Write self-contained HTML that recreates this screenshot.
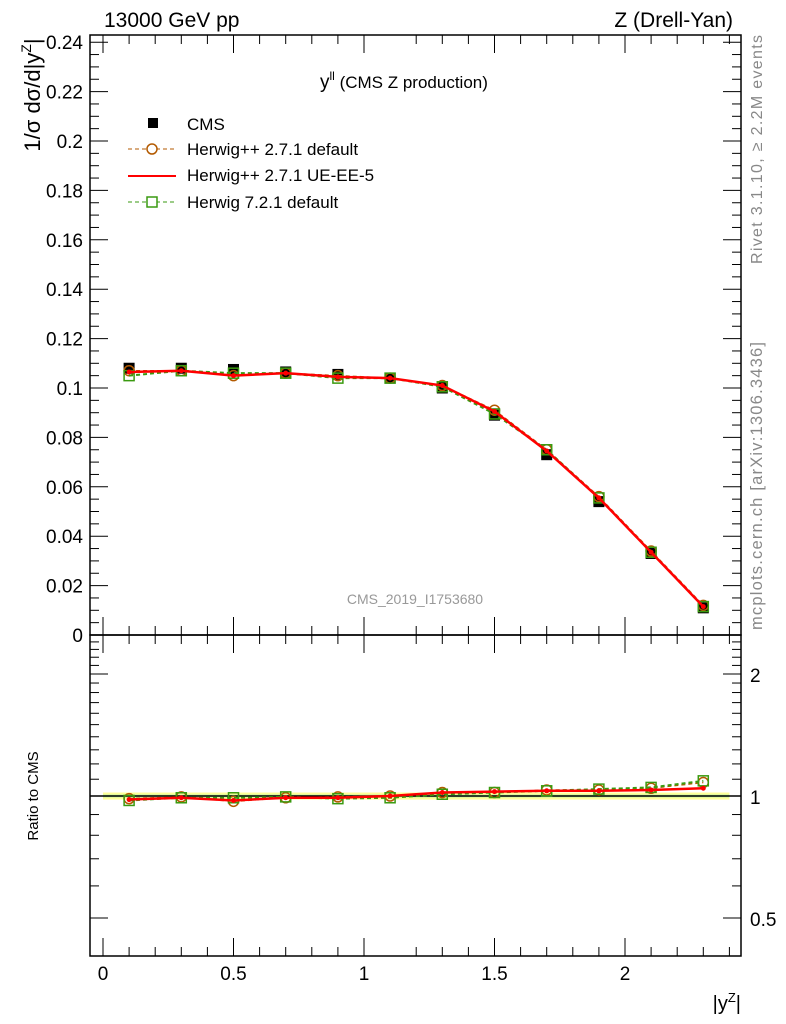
<!DOCTYPE html>
<html><head><meta charset="utf-8"><style>
body{margin:0;background:#fff;}
svg{display:block;font-family:"Liberation Sans",sans-serif;}
</style></head><body>
<svg id="c" width="786" height="1024" viewBox="0 0 786 1024">
<text x="104" y="27" font-size="21">13000 GeV pp</text>
<text x="733" y="27" font-size="21" text-anchor="end">Z (Drell-Yan)</text>
<text x="320" y="88" font-size="19">y<tspan font-size="12" dy="-8">ll</tspan><tspan dy="8" font-size="17"> (CMS Z production)</tspan></text>
<text x="415" y="604" font-size="14" fill="#999" text-anchor="middle">CMS_2019_I1753680</text>
<text transform="translate(762,264) rotate(-90)" font-size="16" fill="#888" textLength="229">Rivet 3.1.10, ≥ 2.2M events</text>
<text transform="translate(762,630) rotate(-90)" font-size="16.5" fill="#888" textLength="288">mcplots.cern.ch [arXiv:1306.3436]</text>
<text transform="translate(40,95) rotate(-90)" font-size="22" text-anchor="middle">1/σ dσ/d|y<tspan font-size="14" dy="-9">Z</tspan><tspan dy="9">|</tspan></text>
<text transform="translate(38,796) rotate(-90)" font-size="15" text-anchor="middle">Ratio to CMS</text>
<text x="741" y="1010" font-size="20" text-anchor="end">|y<tspan font-size="13" dy="-8">Z</tspan><tspan dy="8">|</tspan></text>
<g id="legend">
<g><rect x="148" y="118" width="10" height="10" fill="#000"/><text x="187" y="130" font-size="17">CMS</text></g>
<g><line x1="128" y1="149" x2="176" y2="149" stroke="#b35a00" stroke-dasharray="4,3"/><circle cx="152" cy="149" r="5" fill="#fff" stroke="#b35a00" stroke-width="1.5"/><text x="187" y="155" font-size="17">Herwig++ 2.7.1 default</text></g>
<g><line x1="128" y1="176" x2="176" y2="176" stroke="#f00" stroke-width="2"/><text x="187" y="181" font-size="17">Herwig++ 2.7.1 UE-EE-5</text></g>
<g><line x1="128" y1="202" x2="176" y2="202" stroke="#3a9a10" stroke-dasharray="4,3"/><rect x="147" y="197" width="10" height="10" fill="#fff" stroke="#3a9a10" stroke-width="1.5"/><text x="187" y="208" font-size="17">Herwig 7.2.1 default</text></g>
</g>
</svg>
<script>
const xCenters=[0.1,0.3,0.5,0.7,0.9,1.1,1.3,1.5,1.7,1.9,2.1,2.3];
const cmsVals=[0.108,0.108,0.1075,0.1065,0.1055,0.104,0.100,0.089,0.073,0.054,0.033,0.011];
const hppDefault=[0.107,0.107,0.105,0.106,0.105,0.104,0.101,0.091,0.075,0.056,0.034,0.012];
const hppUE=[0.1065,0.107,0.105,0.106,0.1045,0.104,0.101,0.0905,0.0745,0.0555,0.0335,0.0115];
const h7Default=[0.105,0.107,0.106,0.106,0.104,0.104,0.1005,0.0895,0.075,0.0555,0.0335,0.0115];
const ratioHppDefault=[0.985,0.995,0.97,0.99,0.995,1.0,1.02,1.02,1.035,1.035,1.045,1.08];
const ratioHppUE=[0.98,0.99,0.975,0.99,0.99,1.0,1.02,1.025,1.03,1.03,1.035,1.045];
const ratioH7=[0.975,0.99,0.99,0.995,0.985,0.99,1.01,1.02,1.03,1.04,1.05,1.09];
const mainTicks=[0,0.02,0.04,0.06,0.08,0.1,0.12,0.14,0.16,0.18,0.2,0.22,0.24];
const mainTickLabels=["0","0.02","0.04","0.06","0.08","0.1","0.12","0.14","0.16","0.18","0.2","0.22","0.24"];
const xTicks=[0,0.5,1,1.5,2];
const xTickLabels=["0","0.5","1","1.5","2"];
const ratioTicks=[0.5,1,2];
const ratioTickLabels=["0.5","1","2"];

const NS="http://www.w3.org/2000/svg",svg=document.getElementById('c');
const L=90,R=741,T=35,MB=635,RB=956;
const X=v=>103+(v)*261;
const Y=v=>MB-v*2470;
const YR=v=>796-Math.log2(v)*122;
function mk(tag,a,p){const e=document.createElementNS(NS,tag);for(const k in a)e.setAttribute(k,a[k]);(p||svg).appendChild(e);return e;}
const f1=mk('rect',{x:L,y:T,width:R-L,height:MB-T,fill:'none',stroke:'#000','stroke-width':1.5});


const f2=mk('rect',{x:L,y:MB,width:R-L,height:RB-MB,fill:'none',stroke:'#000','stroke-width':1.5});


for(let v=-0.05;v<=2.44;v+=0.1){const vv=Math.round(v*10)/10;if(vv<-0.04)continue;const xx=X(vv);const maj=Math.abs(vv*2-Math.round(vv*2))<1e-6;const len=maj?18:9;
 [[T,1],[MB,-1],[MB,1],[RB,-1]].forEach(([y0,d])=>mk('line',{x1:xx,y1:y0,x2:xx,y2:y0+d*len,stroke:'#000'}));}
xTicks.forEach((v,i)=>{const t=mk('text',{x:X(v),y:980,'font-size':19,'text-anchor':'middle'});t.textContent=xTickLabels[i];

});
for(let k=0;k<=48;k++){const v=k*0.005;const yy=Y(v);if(yy<T)continue;const maj=k%4==0;const len=maj?18:9;
 mk('line',{x1:L,y1:yy,x2:L+len,y2:yy,stroke:'#000'});mk('line',{x1:R,y1:yy,x2:R-len,y2:yy,stroke:'#000'});}
mainTicks.forEach((v,i)=>{const t=mk('text',{x:83,y:Y(v)+7,'font-size':19,'text-anchor':'end'});t.textContent=mainTickLabels[i];

});
[0.4,0.5,0.6,0.7,0.8,0.9,1,2,1.1,1.2,1.3,1.4,1.5,1.6,1.7,1.8,1.9,2.1,2.2,2.3,2.4,2.5].forEach(v=>{const yy=YR(v);if(yy<MB||yy>RB)return;const maj=[0.5,1,2].includes(v);const len=maj?18:9;
 mk('line',{x1:L,y1:yy,x2:L+len,y2:yy,stroke:'#000'});mk('line',{x1:R,y1:yy,x2:R-len,y2:yy,stroke:'#000'});});
ratioTicks.forEach((v,i)=>{const t=mk('text',{x:750,y:YR(v)+8,'font-size':19});t.textContent=ratioTickLabels[i];

});
const band=mk('rect',{x:X(0),y:YR(1.02),width:X(2.4)-X(0),height:YR(0.98)-YR(1.02),fill:'#ffff99'});


mk('rect',{x:X(0),y:YR(1.008),width:X(2.4)-X(0),height:YR(0.992)-YR(1.008),fill:'#b8f0a0'});
const one=mk('line',{x1:L,y1:YR(1),x2:R,y2:YR(1),stroke:'#000','stroke-width':1.5});


function series(vals,yf,col,dash,w,marker,name){
 const g=mk('g',{});
 const pts=vals.map((v,i)=>X(xCenters[i])+','+yf(v)).join(' ');
 const a={points:pts,fill:'none',stroke:col,'stroke-width':w};if(dash)a['stroke-dasharray']=dash;mk('polyline',a,g);
 vals.forEach((v,i)=>{const cx=X(xCenters[i]),cy=yf(v);let m;
  if(marker=='circle')m=mk('circle',{cx:cx,cy:cy,r:5,fill:'none',stroke:col,'stroke-width':1.5},g);
  else if(marker=='square')m=mk('rect',{x:cx-5,y:cy-5,width:10,height:10,fill:'none',stroke:col,'stroke-width':1.5},g);
  else m=mk('circle',{cx:cx,cy:cy,r:2.5,fill:col},g);
  
  });
}
const cg=mk('g',{});
cmsVals.forEach((v,i)=>{const r=mk('rect',{x:X(xCenters[i])-5.5,y:Y(v)-5.5,width:11,height:11,fill:'#000'},cg);

});
series(hppDefault,Y,'#b35a00','4,3',1.5,'circle','herwigpp-default-series');
series(h7Default,Y,'#3a9a10','4,3',2,'square','herwig7-series');
series(hppUE,Y,'#f00',null,2.5,'dot','herwigpp-ueee5-series');
series(ratioHppDefault,YR,'#b35a00','4,3',1.5,'circle','ratio-herwigpp-default');
series(ratioH7,YR,'#3a9a10','4,3',2,'square','ratio-herwig7');
series(ratioHppUE,YR,'#f00',null,2.5,'dot','ratio-herwigpp-ueee5');
</script>
</body></html>
